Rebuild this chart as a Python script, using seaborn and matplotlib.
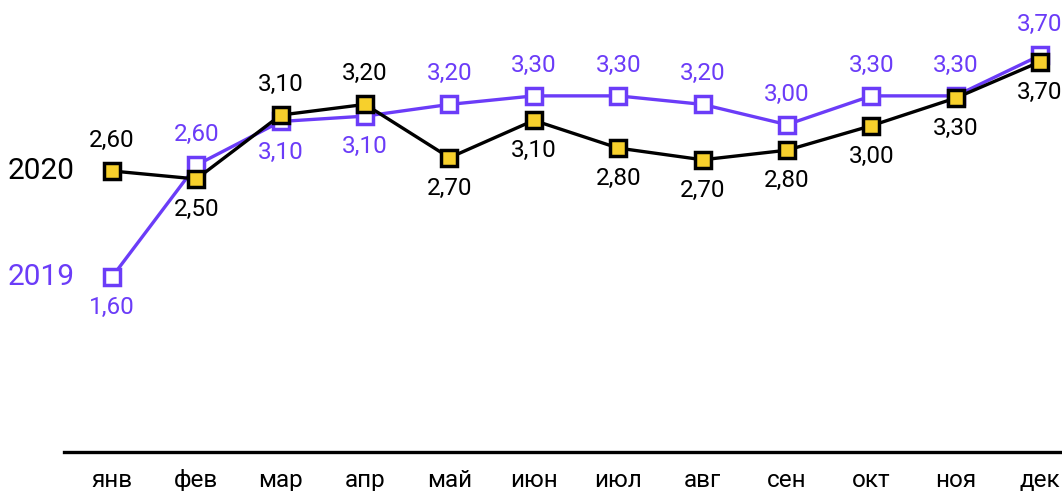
import seaborn as sns
import pandas as pd
import matplotlib.pyplot as plt

months = ['янв', 'фев', 'мар', 'апр', 'май', 'июн', 'июл', 'авг', 'сен', 'окт', 'ноя', 'дек']

# positions (unrounded), labels as printed
vals_2019 = [1.60, 2.65, 3.06, 3.11, 3.22, 3.30, 3.30, 3.22, 3.03, 3.30, 3.30, 3.68]
vals_2020 = [2.595, 2.52, 3.12, 3.22, 2.72, 3.07, 2.81, 2.70, 2.79, 3.02, 3.28, 3.62]
labels_2019 = ['1,60', '2,60', '3,10', '3,10', '3,20', '3,30', '3,30', '3,20', '3,00', '3,30', '3,30', '3,70']
labels_2020 = ['2,60', '2,50', '3,10', '3,20', '2,70', '3,10', '2,80', '2,70', '2,80', '3,00', '3,30', '3,70']
# +1 label above the marker, -1 below
side_2019 = [-1, 1, -1, -1, 1, 1, 1, 1, 1, 1, 1, 1]
side_2020 = [1, -1, 1, 1, -1, -1, -1, -1, -1, -1, -1, -1]

purple = '#6b3cf8'
yellow = '#f7d02c'

sns.set_theme(style='white')
plt.rcParams['font.family'] = ['Roboto', 'DejaVu Sans']

df = pd.DataFrame({'x': range(12), 'y2019': vals_2019, 'y2020': vals_2020})

fig = plt.figure(figsize=(10.62, 4.91), dpi=100)
ax = fig.add_axes([64 / 1062, 1 - 452 / 491, 1 - 64 / 1062, 452 / 491])

sns.lineplot(data=df, x='x', y='y2019', ax=ax, color=purple, lw=2.4,
             marker='s', markersize=12, markerfacecolor='white',
             markeredgecolor=purple, markeredgewidth=2.5, zorder=2)
sns.lineplot(data=df, x='x', y='y2020', ax=ax, color='black', lw=2.4,
             marker='s', markersize=12, markerfacecolor=yellow,
             markeredgecolor='black', markeredgewidth=2.5, zorder=3)

for i in range(12):
    ax.annotate(labels_2019[i], (i, vals_2019[i]), xytext=(0, 22 * side_2019[i]),
                textcoords='offset points', ha='center', va='center',
                fontsize=17.5, color=purple)
    ax.annotate(labels_2020[i], (i, vals_2020[i]), xytext=(0, 22 * side_2020[i]),
                textcoords='offset points', ha='center', va='center',
                fontsize=17.5, color='black')

ax.annotate('2020', (0, vals_2020[0]), xytext=(-27, 0), textcoords='offset points',
            ha='right', va='center', fontsize=21.5, color='black', annotation_clip=False)
ax.annotate('2019', (0, vals_2019[0]), xytext=(-27, 0), textcoords='offset points',
            ha='right', va='center', fontsize=21.5, color=purple, annotation_clip=False)

ax.set_xlim(-0.569, 11.26)
ax.set_ylim(-0.043, 4.2)
ax.set_xticks(range(12))
ax.set_xticklabels(months, fontsize=17.5, color='black')
ax.set_yticks([])
ax.set_xlabel('')
ax.set_ylabel('')
ax.tick_params(axis='x', length=0, pad=12)
for s in ['top', 'right', 'left']:
    ax.spines[s].set_visible(False)
ax.spines['bottom'].set_color('black')
ax.spines['bottom'].set_linewidth(2.4)

fig.savefig('out.png', dpi=100)
